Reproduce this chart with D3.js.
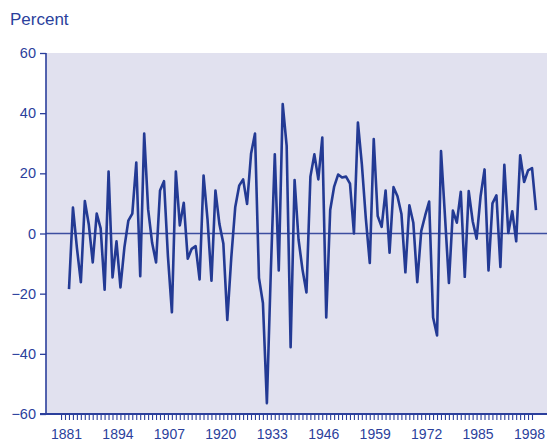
<!DOCTYPE html>
<html><head><meta charset="utf-8">
<script src="https://cdn.jsdelivr.net/npm/d3@7"></script>
<style>html,body{margin:0;padding:0;background:#fff;}svg{display:block;}</style>
</head><body>
<svg id="chart" width="547" height="441"></svg>
<script>
const startYear = 1881;
const values = [
 -18.5, 8.6, -4.8, -16.2, 10.8, 3.0, -9.6, 6.6, 1.7, -18.7,
 20.6, -14.6, -2.6, -17.9, -4.6, 4.3, 6.6, 23.6, -14.2, 33.2,
 8.0, -3.1, -9.6, 14.3, 17.4, -7.6, -26.2, 20.6, 2.7, 10.2,
 -8.4, -5.1, -4.2, -15.3, 19.3, 4.7, -15.7, 14.3, 3.2, -3.3,
 -28.7, -8.1, 8.7, 15.9, 18.0, 9.8, 26.5, 33.2, -14.8, -23.1,
 -56.4, -12.4, 26.3, -12.3, 43.0, 29.1, -37.8, 17.8, -2.0, -12.0,
 -19.6, 18.9, 26.3, 18.0, 31.9, -27.9, 7.8, 15.6, 19.6, 18.6,
 18.9, 16.6, 0.0, 36.9, 23.0, 5.0, -9.8, 31.4, 5.8, 2.2,
 14.3, -6.4, 15.4, 12.4, 6.5, -12.9, 9.4, 3.6, -16.2, 0.8,
 6.0, 10.6, -27.9, -33.9, 27.4, 5.8, -16.4, 7.6, 3.6, 13.9,
 -14.4, 14.1, 4.1, -1.7, 12.4, 21.3, -12.3, 10.0, 12.7, -11.1,
 22.8, 0.2, 7.4, -2.6, 26.0, 17.1, 21.0, 21.7, 7.8
];
const years = values.map((v, i) => startYear + i);
const yTicks = [60, 40, 20, 0, -20, -40, -60];
const xLabelYears = [1881, 1894, 1907, 1920, 1933, 1946, 1959, 1972, 1985, 1998];
const tickYears = d3.range(1880, 2000);
const yLabel = "Percent";

const ink = "#2b3f9c";
const lineCol = "#233a94";
const svg = d3.select("#chart");
const L = 46, R = 547, T = 53, B = 414;

const x = d3.scaleLinear().domain([1881, 1999]).range([69, 536]);
const y = d3.scaleLinear().domain([-60, 60]).range([B, T]);

svg.append("rect").attr("x", L).attr("y", T).attr("width", R - L).attr("height", B - T)
  .attr("fill", "#e1e1ef");

// zero line
svg.append("line").attr("x1", L).attr("x2", R).attr("y1", y(0)).attr("y2", y(0))
  .attr("stroke", "#3c4ea0").attr("stroke-width", 1.4);

// y axis
const yAxis = d3.axisLeft(y).tickValues(yTicks).tickSize(6).tickPadding(4)
  .tickFormat(d => d < 0 ? "\u2212" + Math.abs(d) : String(d));
const gy = svg.append("g").attr("transform", `translate(${L},0)`).call(yAxis);
gy.select(".domain").remove();
gy.append("line").attr("x1", 0).attr("x2", 0).attr("y1", T).attr("y2", B + 0.5)
  .attr("stroke", ink).attr("stroke-width", 1.6);
gy.selectAll(".tick line").attr("stroke", ink).attr("stroke-width", 1.3);
gy.selectAll(".tick text").attr("fill", ink).style("font-family", "Liberation Sans, Arial, sans-serif")
  .style("font-size", "14.5px");

// x axis line
svg.append("line").attr("x1", L - 6).attr("x2", R).attr("y1", B).attr("y2", B)
  .attr("stroke", ink).attr("stroke-width", 1.8);

// x ticks
const xAxis = d3.axisBottom(x).tickValues(tickYears).tickSize(5).tickFormat("");
const gx = svg.append("g").attr("transform", `translate(-4,${B + 1})`).call(xAxis);
gx.select(".domain").remove();
gx.selectAll(".tick line").attr("stroke", ink).attr("stroke-width", 1.1);

svg.append("g").selectAll("text").data(xLabelYears).join("text")
  .attr("x", d => x(d) - 2.5).attr("y", 439)
  .attr("text-anchor", "middle").attr("fill", ink)
  .style("font-family", "Liberation Sans, Arial, sans-serif").style("font-size", "14px")
  .text(d => d);

// title
svg.append("text").attr("x", 10).attr("y", 25).attr("fill", ink)
  .style("font-family", "Liberation Sans, Arial, sans-serif").style("font-size", "17px")
  .text(yLabel);

// data line
const line = d3.line().x((d, i) => x(years[i])).y(d => y(d));
svg.append("path").datum(values).attr("d", line).attr("fill", "none")
  .attr("stroke", lineCol).attr("stroke-width", 2.6).attr("stroke-linejoin", "round");
</script>
</body></html>
